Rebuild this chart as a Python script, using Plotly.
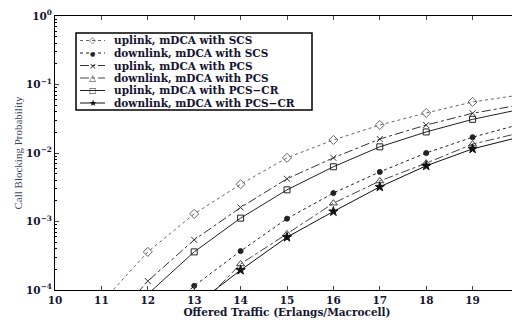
import plotly.graph_objects as go

traffic = [11, 12, 13, 14, 15, 16, 17, 18, 19, 20]

uplink_scs     = [6.5e-5, 3.6e-4, 1.29e-3, 3.5e-3, 8.5e-3, 0.0155, 0.0256, 0.0384, 0.0556, 0.070]
downlink_scs   = [None, 2.5e-5, 1.15e-4, 3.7e-4, 1.1e-3, 2.6e-3, 5.3e-3, 0.0100, 0.0170, 0.026]
uplink_pcs     = [2.3e-5, 1.35e-4, 5.4e-4, 1.6e-3, 4.2e-3, 8.5e-3, 0.0160, 0.0256, 0.038, 0.050]
downlink_pcs   = [None, None, 4.8e-5, 2.4e-4, 6.6e-4, 1.85e-3, 3.9e-3, 7.1e-3, 0.0135, 0.0195]
uplink_pcscr   = [None, 8.7e-5, 3.6e-4, 1.12e-3, 2.9e-3, 6.3e-3, 0.0123, 0.0203, 0.031, 0.043]
downlink_pcscr = [None, None, 5.9e-5, 1.95e-4, 5.9e-4, 1.4e-3, 3.2e-3, 6.5e-3, 0.0115, 0.017]

names = [
    "uplink, mDCA with SCS",
    "downlink, mDCA with SCS",
    "uplink, mDCA with PCS",
    "downlink, mDCA with PCS",
    "uplink, mDCA with PCS\u2212CR",
    "downlink, mDCA with PCS\u2212CR",
]
series = [uplink_scs, downlink_scs, uplink_pcs, downlink_pcs, uplink_pcscr, downlink_pcscr]
dashes = ["dot", "dot", "dashdot", "dashdot", "solid", "solid"]
symbols = ["diamond-open", "circle", "x-thin-open", "triangle-up-open", "square-open", "star"]
glyphs = ["\u25c7", "\u25cf", "\u00d7", "\u25b3", "\u25a1", "\u2605"]
glyph_sizes = [9, 6, 9, 9, 8, 9]
msizes = [7, 5, 6, 7, 6, 7]
colors = ["#666666", "#222222", "#333333", "#444444", "#222222", "#111111"]

y_tickvals = [1e-4, 1e-3, 1e-2, 1e-1, 1]
y_ticktext = ["10<sup>\u22124</sup>", "10<sup>\u22123</sup>", "10<sup>\u22122</sup>",
              "10<sup>\u22121</sup>", "10<sup>0</sup>"]
y_minor = [m * 10.0 ** e for e in range(-4, 0) for m in range(2, 10)]
x_tickvals = list(range(10, 21))

# layout constants; the page body adds an 8 px offset
OFF = 8
W, H = 520, 320
# desired screen positions of the plot area
SX0, SX1, SY0, SY1 = 55, 519, 16, 290
ML = SX0 - OFF
MT = SY0 - OFF
MR = W - (SX1 - OFF)
MB = H - (SY1 - OFF)
PW, PH = SX1 - SX0, SY1 - SY0


def px(x):
    return (x - SX0) / PW


def py(y):
    return (SY1 - y) / PH


fig = go.Figure()
for n, s, d, sym, ms, c in zip(names, series, dashes, symbols, msizes, colors):
    fig.add_trace(go.Scatter(
        x=traffic, y=s, name=n, mode="lines+markers", connectgaps=False,
        line=dict(color=c, width=1, dash=d),
        marker=dict(symbol=sym, size=ms, color=c, line=dict(color=c, width=1)),
        showlegend=False,
    ))

serif_wide = "DejaVu Serif, serif"
serif = "Liberation Serif, Times New Roman, serif"
text_col = "#141430"

# hand-built legend (compact, like the original)
shapes = [dict(type="rect", xref="paper", yref="paper",
               x0=px(76), x1=px(312), y0=py(110), y1=py(33),
               line=dict(color="black", width=1.5), fillcolor="white", layer="above")]
annotations = []
row_y = [40.5, 53, 65.5, 78, 90.5, 103]
for i, (n, d, c, g, gs) in enumerate(zip(names, dashes, colors, glyphs, glyph_sizes)):
    yy = py(row_y[i])
    shapes.append(dict(type="line", xref="paper", yref="paper",
                       x0=px(80), x1=px(105), y0=yy, y1=yy,
                       line=dict(color=c, width=1, dash=d), layer="above"))
    annotations.append(dict(xref="paper", yref="paper", x=px(92.5), y=yy,
                            text=g, showarrow=False, xanchor="center", yanchor="middle",
                            font=dict(family="DejaVu Sans", size=gs, color=c)))
    annotations.append(dict(xref="paper", yref="paper", x=px(112), y=yy,
                            text=n, showarrow=False, xanchor="left", yanchor="middle",
                            font=dict(family=serif_wide, size=10.5, weight="bold", color=text_col)))

fig.update_layout(
    width=W, height=H,
    margin=dict(l=ML, r=MR, t=MT, b=MB),
    paper_bgcolor="white", plot_bgcolor="white",
    font=dict(family=serif_wide, size=10, color="black"),
    showlegend=False,
    shapes=shapes,
    annotations=annotations,
    xaxis=dict(
        range=[10, 20], tickvals=x_tickvals, ticks="inside", ticklen=4,
        showline=True, linecolor="black", linewidth=1, mirror="ticks",
        showgrid=False, zeroline=False, automargin=False,
        title=dict(text="Offered Traffic (Erlangs/Macrocell)", standoff=2,
                   font=dict(family=serif_wide, size=10.5, weight="bold", color=text_col)),
        tickfont=dict(family=serif_wide, size=10.5, weight="bold", color=text_col),
    ),
    yaxis=dict(
        type="log", range=[-4, 0], tickvals=y_tickvals, ticktext=y_ticktext,
        ticks="inside", ticklen=4,
        minor=dict(ticks="inside", ticklen=2, tickmode="array", tickvals=y_minor,
                   showgrid=False, tickcolor="black"),
        showline=True, linecolor="black", linewidth=1, mirror="ticks",
        showgrid=False, zeroline=False, automargin=False,
        title=dict(text="Call Blocking Probability", standoff=1,
                   font=dict(family=serif, size=11, color="#3a4560")),
        tickfont=dict(family=serif_wide, size=10.5, weight="bold", color=text_col),
    ),
)

fig.write_html("out.html")
